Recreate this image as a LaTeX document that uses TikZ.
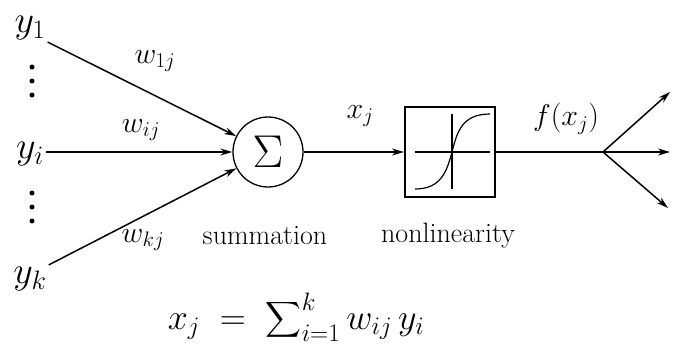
\RequirePackage{fix-cm}
\documentclass[tikz,border=0pt]{standalone}
\usepackage{exscale}
\usetikzlibrary{arrows.meta}
\begin{document}
\begin{tikzpicture}[x=1pt,y=-1pt,
  conn/.style={line width=1.5pt,-{Stealth[length=12pt,width=7pt]}},
  wire/.style={line width=1.5pt},
  lbl/.style={inner sep=2pt,font=\fontsize{30}{32}\selectfont},
  inp/.style={inner sep=2pt,font=\fontsize{38}{40}\selectfont},
  caption/.style={inner sep=0pt,font=\fontsize{28}{30}\selectfont}]
  \useasboundingbox (0,0) rectangle (675,348);
  % Inputs
  \node[inp] (y1) at (30,28) {$y_1$};
  \node[inp] (yi) at (30,154) {$y_i$};
  \node[inp] (yk) at (30,279) {$y_k$};
  \foreach \d in {67,81,95,193,207,221}
    \fill (32,\d) circle (2.5pt);
  % Summation and nonlinearity
  \node[circle,draw,line width=1.3pt,minimum size=70pt,inner sep=0pt,
    font=\fontsize{46}{48}\selectfont] (sum) at (268,152) {$\Sigma$};
  \node[draw,line width=2pt,minimum width=90pt,minimum height=90pt] (nl) at (450,152) {};
  \begin{scope}[shift={(nl.center)},line width=1.2pt]
    \draw (-35,0) -- (40,0);
    \draw (2,-38) -- (2,37);
    \draw (-35,37) .. controls (-8,37) and (-3,18) .. (2,0)
      .. controls (7,-20) and (12,-38) .. (40,-38);
  \end{scope}
  % Weights
  \draw[conn] (y1.south east) -- (sum);
  \draw[conn] (yi.east |- sum.west) -- (sum.west);
  \draw[conn] (yk.north east) -- (sum);
  \node[lbl] (w1j) at (155,61) {$w_{1j}$};
  \node[lbl] (wij) at (141,130) {$w_{ij}$};
  \node[lbl] (wkj) at (143,240) {$w_{kj}$};
  % Output
  \draw[conn] (sum) -- (nl);
  \coordinate (br) at (603,152);
  \coordinate (o1) at (670,92);
  \coordinate (o2) at (670,152);
  \coordinate (o3) at (668,208);
  \draw[wire] (nl.east) -- (br);
  \foreach \o in {o1,o2,o3}
    \draw[conn] (br) -- (\o);
  \node[lbl] (xj) at (360,116) {$x_j$};
  \node[lbl] (fxj) at (566,119) {$f(x_j)$};
  % Captions
  \node[caption] (sumcap) at (265,236) {summation};
  \node[caption] (nlcap) at (448,236) {nonlinearity};
  \node[inner sep=0pt,font=\fontsize{36}{40}\selectfont] (eq) at (296,317)
    {$x_j \;=\; \displaystyle\sum\nolimits_{i=1}^k w_{ij}\, y_i$};
\end{tikzpicture}
\end{document}
